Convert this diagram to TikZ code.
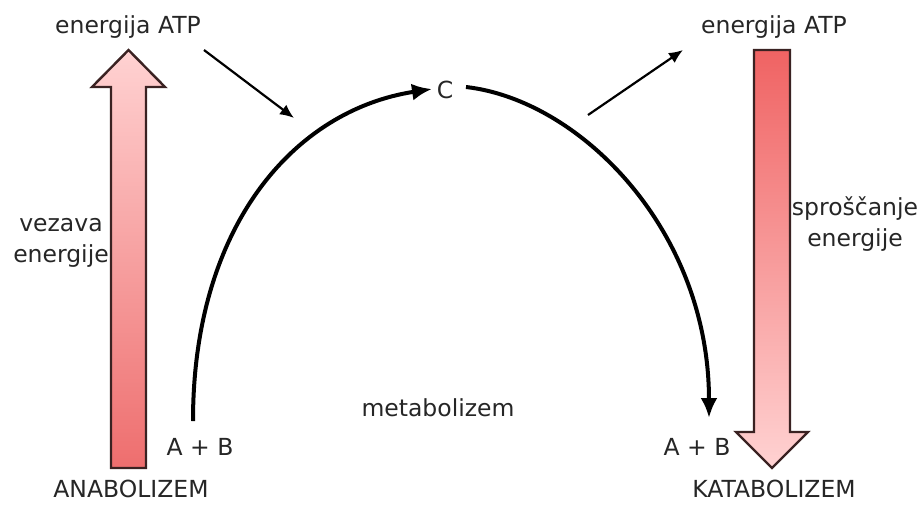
\documentclass[tikz,border=0pt]{standalone}
\usepackage{fontspec}
\setmainfont{DejaVu Sans}
\usetikzlibrary{arrows.meta}
\definecolor{outl}{HTML}{3A2222}
\definecolor{pinklight}{HTML}{FFD2D2}
\definecolor{pinkdark}{HTML}{EE6E6E}
\tikzset{
  lbl/.style={font=\fontsize{23.5}{31.5}\selectfont, text=black!85, inner sep=0pt, align=center},
  bigarrow/.style={draw=outl, line width=2.4pt, line join=miter},
  cycarrow/.style={line width=4pt, -{Latex[length=20pt,width=17pt]}},
  thinarrow/.style={line width=2.2pt, -{Latex[length=14pt,width=12pt]}},
}
\begin{document}
\begin{tikzpicture}[x=1pt,y=-1pt]
\useasboundingbox (0,0) rectangle (922,504);
% big shaded arrows
\shade[bigarrow, top color=pinklight, bottom color=pinkdark]
  (111,468) -- (146,468) -- (146,87) -- (165,87) -- (128.5,50) -- (92,87) -- (111,87) -- cycle;
\shade[bigarrow, top color=pinkdark!90!red, bottom color=pinklight]
  (754,50) -- (790,50) -- (790,432) -- (808,432) -- (772,468) -- (736,432) -- (754,432) -- cycle;
% labels
\node[lbl] (atpL) at (128,27) {energija ATP};
\node[lbl] (atpR) at (774,27) {energija ATP};
\node[lbl] (vez) at (61,243) {vezava\\energije};
\node[lbl] (spr) at (855,224) {sproščanje\\energije};
\node[lbl] (ana) at (131,489) {ANABOLIZEM};
\node[lbl] (kata) at (774,489) {KATABOLIZEM};
\node[lbl] (abL) at (200,447) {A + B};
\node[lbl] (abR) at (697,447) {A + B};
\node[lbl] (met) at (438,408) {metabolizem};
\node[lbl] (C) at (445,90) {C};
% coordinates
\coordinate (s1) at (193,421);
\coordinate (e1) at (432,89);
\coordinate (s2) at (466,87);
\coordinate (e2) at (709,418);
\coordinate (inA) at (294,118);
\coordinate (outA) at (588,115);
\coordinate (atpLout) at (204,50);
\coordinate (atpRin) at (683,50);
% cycle arcs
\draw[cycarrow] (s1) .. controls (193,225) and (295,110) .. (e1);
\draw[cycarrow] (s2) .. controls (580,100) and (709,230) .. (e2);
% thin arrows
\draw[thinarrow] (atpLout) -- (inA);
\draw[thinarrow] (outA) -- (atpRin);
\end{tikzpicture}
\end{document}
